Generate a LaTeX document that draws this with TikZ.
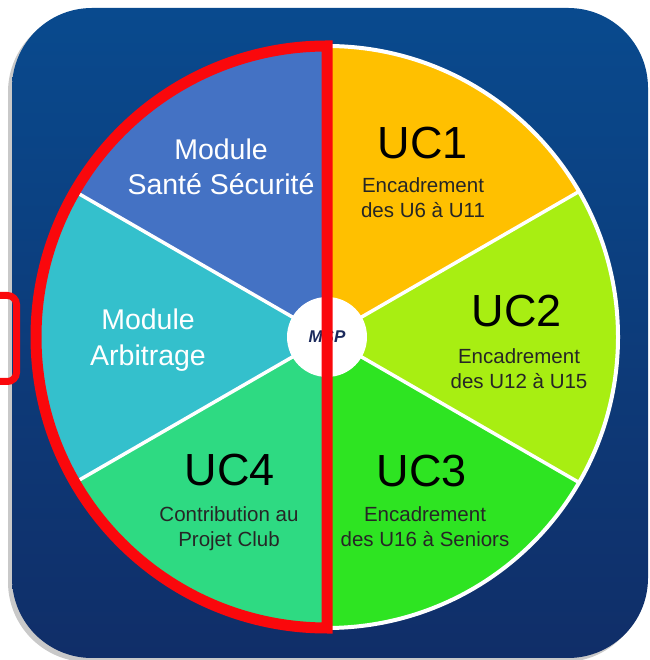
\documentclass[tikz,border=0pt]{standalone}
\usepackage{fontspec}
\setmainfont{Liberation Sans}
\usepackage{tikz}
\usetikzlibrary{positioning, shadows, calc}
\definecolor{bgtop}{RGB}{9, 74, 142}
\definecolor{bgbottom}{RGB}{16, 46, 104}
\definecolor{redmark}{RGB}{250, 8, 12}
\definecolor{santeblue}{RGB}{68, 114, 196}
\definecolor{uconeorange}{RGB}{255, 192, 0}
\definecolor{uctwolime}{RGB}{168, 238, 18}
\definecolor{ucthreegreen}{RGB}{46, 228, 34}
\definecolor{ucfourgreen}{RGB}{46, 218, 130}
\definecolor{arbitteal}{RGB}{52, 192, 204}
\definecolor{mspblue}{RGB}{27, 42, 92}

\begin{document}
\begin{tikzpicture}[
        x=1pt, y=1pt,
        title/.style={font=\fontsize{45}{45}\selectfont, text=black},
        subtitle/.style={font=\fontsize{20.5}{25}\selectfont, align=center, text=black!85},
        module/.style={font=\fontsize{28.5}{35.5}\selectfont, align=center, text=white},
        separator/.style={white, line width=3.5pt},
        redline/.style={draw=redmark, line width=11pt}
    ]
        \useasboundingbox (0,0) rectangle (649,660);
        % background panel
        \path[top color=bgtop, bottom color=bgbottom, rounded corners=80pt,
            drop shadow={shadow xshift=-4pt, shadow yshift=-4pt, opacity=.3, fill=black!70}]
            (12,2) rectangle (648,652);
        \draw[redmark, line width=7pt, rounded corners=9pt] (-20,278.5) rectangle (16.5,364.5);

        % wheel
        \coordinate (c) at (327,323);
        \fill[santeblue] (c) -- ++(90:291) arc[start angle=90, end angle=150, radius=291] -- cycle;
        \fill[arbitteal] (c) -- ++(150:291) arc[start angle=150, end angle=210, radius=291] -- cycle;
        \fill[ucfourgreen] (c) -- ++(210:291) arc[start angle=210, end angle=270, radius=291] -- cycle;
        \fill[ucthreegreen] (c) -- ++(270:291) arc[start angle=270, end angle=330, radius=291] -- cycle;
        \fill[uctwolime] (c) -- ++(-30:291) arc[start angle=-30, end angle=30, radius=291] -- cycle;
        \fill[uconeorange] (c) -- ++(30:291) arc[start angle=30, end angle=90, radius=291] -- cycle;
        \draw[white, line width=4pt] (c) circle[radius=291];
        \draw[separator] (c) -- ++(30:291);
        \draw[separator] (c) -- ++(-30:291);
        \draw[separator] (c) -- ++(150:291);
        \draw[separator] (c) -- ++(210:291);

        \node[circle, fill=white, minimum size=80pt, inner sep=0pt, text=mspblue,
            font=\fontsize{17}{17}\selectfont\bfseries\itshape] (msp) at (c) {MSP};

        \draw[redline] ($(c)+(0,291)$) arc[start angle=90, end angle=270, radius=291] -- cycle;

        % labels
        \node[module] (sante) at (221,493) {Module\\Santé Sécurité};
        \node[module] (arbitrage) at (148,320) {Module\\Arbitrage};
        \node[title] (uc1) at (423,517) {UC1};
        \node[subtitle] (uc1txt) at (423,462.5) {Encadrement\\des U6 à U11};
        \node[title] (uc2) at (517,349) {UC2};
        \node[subtitle] (uc2txt) at (519,291) {Encadrement\\des U12 à U15};
        \node[title] (uc3) at (422,189) {UC3};
        \node[subtitle] (uc3txt) at (425,133) {Encadrement\\des U16 à Seniors};
        \node[title] (uc4) at (230,190) {UC4};
        \node[subtitle] (uc4txt) at (229,131) {Contribution au\\Projet Club};
    \end{tikzpicture}
\end{document}
